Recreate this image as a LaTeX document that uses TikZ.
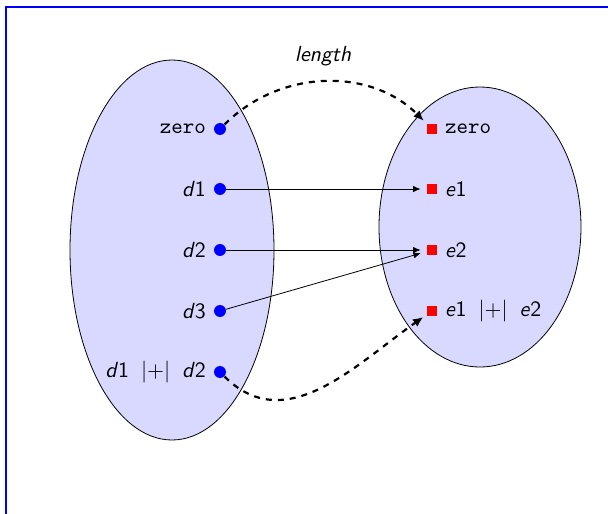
\documentclass[tikz,border=0pt,11pt]{standalone}
\usepackage{tikz}
\usetikzlibrary{arrows.meta,positioning}
\definecolor{SetFill}{HTML}{D9D9FF}

\begin{document}
\begin{tikzpicture}[x=0.0176cm,y=-0.0176cm,font=\sffamily,
    dot/.style={circle,fill=blue,inner sep=0pt,minimum size=6pt},
    sq/.style={rectangle,fill=red,inner sep=0pt,minimum size=5pt},
    map/.style={-{Latex[length=1.3mm,width=1.1mm]},shorten >=3pt},
    lift/.style={-{Latex[length=1.8mm,width=1.6mm]},dashed,line width=1.1pt,shorten >=2pt}
]
\useasboundingbox (0,0) rectangle (608,514);
\draw[blue,line width=0.8pt] (6,514) -- (6,7) -- (608,7);
% the two sets
\draw[fill=SetFill] (172,250) ellipse [x radius=102,y radius=190];
\draw[fill=SetFill] (480,227) ellipse [x radius=101,y radius=140];
% left elements
\node[dot,label=left:\texttt{zero}] (dz) at (220,129) {};
\node[dot,label=left:\textit{d}1] (d1) at (220,189) {};
\node[dot,label=left:\textit{d}2] (d2) at (220,250) {};
\node[dot,label=left:\textit{d}3] (d3) at (220,311) {};
\node[dot,label=left:{\textit{d}1\hspace{6pt}|+|\hspace{6pt}\textit{d}2}] (dsum) at (220,372) {};
% right elements
\node[sq,label=right:\texttt{zero}] (ez) at (432,129) {};
\node[sq,label=right:\textit{e}1] (e1) at (432,189) {};
\node[sq,label=right:\textit{e}2] (e2) at (432,250) {};
\node[sq,label=right:{\textit{e}1\hspace{6pt}|+|\hspace{6pt}\textit{e}2}] (esum) at (432,311) {};
\node (len) at (323,56) {\textit{length}};
% the mapping
\draw[map] (d1) -- (e1);
\draw[map] (d2) -- (e2);
\draw[map] (d3) -- (e2);
\draw[lift] (dz) to[out=45,in=135] (ez);
\draw[lift] (dsum) to[out=-45,in=215,looseness=1.05] (esum);
\end{tikzpicture}
\end{document}
